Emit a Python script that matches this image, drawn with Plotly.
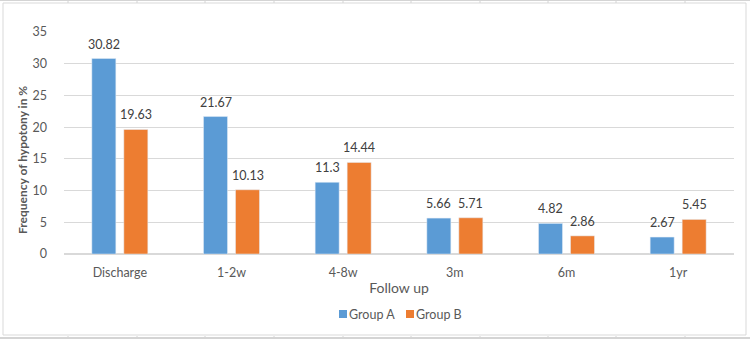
import plotly.graph_objects as go

categories = ["Discharge", "1-2w", "4-8w", "3m", "6m", "1yr"]
group_a = [30.82, 21.67, 11.3, 5.66, 4.82, 2.67]
group_b = [19.63, 10.13, 14.44, 5.71, 2.86, 5.45]
labels_a = ["30.82", "21.67", "11.3", "5.66", "4.82", "2.67"]
labels_b = ["19.63", "10.13", "14.44", "5.71", "2.86", "5.45"]
series_names = ["Group A", "Group B"]
series_colors = ["#5B9BD5", "#ED7D31"]
y_ticks = [0, 5, 10, 15, 20, 25, 30, 35]

FONT = "Lato"
TXT = "#595959"
FS = 12.5

fig = go.Figure()
fig.add_trace(go.Bar(x=categories, y=group_a, name=series_names[0], marker_color=series_colors[0]))
fig.add_trace(go.Bar(x=categories, y=group_b, name=series_names[1], marker_color=series_colors[1]))

L, R, T, B = 64, 734, 32, 254
W, H = 750, 339

def px(x):
    return (x - L) / (R - L)

def py(y):
    return (B - y) / (B - T)

annotations = []
for cat, va, vb, la, lb in zip(categories, group_a, group_b, labels_a, labels_b):
    for v, lab, dx in ((va, la, -16), (vb, lb, 16)):
        annotations.append(dict(x=cat, y=v, xref="x", yref="y", text=lab, showarrow=False,
                                xshift=dx, yshift=5, yanchor="bottom", xanchor="center",
                                font=dict(family=FONT, size=FS, color="#404040")))
annotations.append(dict(x=px(22), y=py(160), xref="paper", yref="paper", textangle=-90,
                        text="<b>Frequency of hypotony in %</b>", showarrow=False,
                        xanchor="center", yanchor="middle",
                        font=dict(family=FONT, size=12, color=TXT)))

shapes = []
shapes.append(dict(type="rect", xref="paper", yref="paper",
                   x0=px(3), x1=px(746), y0=py(3), y1=py(335),
                   line=dict(color="#D9D9D9", width=1), fillcolor="rgba(0,0,0,0)", layer="below"))
shapes.append(dict(type="line", xref="paper", yref="paper", x0=px(0), x1=px(750), y0=py(0.5), y1=py(0.5),
                   line=dict(color="#D4D4D4", width=1)))
shapes.append(dict(type="line", xref="paper", yref="paper", x0=px(0), x1=px(750), y0=py(338), y1=py(338),
                   line=dict(color="#D4D4D4", width=2)))
for xv in [68, 137, 205, 274, 343, 411, 480, 548, 616, 685]:
    shapes.append(dict(type="line", xref="paper", yref="paper", x0=px(xv), x1=px(xv), y0=py(0), y1=py(3),
                       line=dict(color="#D4D4D4", width=1)))
    shapes.append(dict(type="line", xref="paper", yref="paper", x0=px(xv), x1=px(xv), y0=py(336), y1=py(339),
                       line=dict(color="#D4D4D4", width=1)))

# legend (compact, Excel-like)
for name, color, sx in zip(series_names, series_colors, [339, 406]):
    shapes.append(dict(type="rect", xref="paper", yref="paper",
                       x0=px(sx), x1=px(sx + 8), y0=py(318), y1=py(310),
                       line=dict(width=0), fillcolor=color))
    annotations.append(dict(x=px(sx + 8), y=py(314), xref="paper", yref="paper", text=name,
                            showarrow=False, xanchor="left", yanchor="middle",
                            font=dict(family=FONT, size=FS, color=TXT)))

fig.update_layout(
    width=W, height=H,
    margin=dict(l=L, r=W - R, t=T, b=H - B, autoexpand=False),
    paper_bgcolor="white", plot_bgcolor="white",
    barmode="group", bargap=0.427, bargroupgap=0.25,
    font=dict(family=FONT, color=TXT, size=FS),
    showlegend=False,
    xaxis=dict(showgrid=False, showline=False, ticks="",
               tickfont=dict(family=FONT, size=FS, color=TXT), ticklabelstandoff=9,
               title=dict(text="Follow up", font=dict(family=FONT, size=14, color=TXT), standoff=4)),
    yaxis=dict(range=[0, 35], tickvals=y_ticks, showgrid=True, gridcolor="#D9D9D9", gridwidth=1,
               zeroline=True, zerolinecolor="#D9D9D9", showline=False, ticks="",
               tickfont=dict(family=FONT, size=FS, color=TXT), ticklabelstandoff=16),
    shapes=shapes,
    annotations=annotations,
)

fig.write_html("out.html")
